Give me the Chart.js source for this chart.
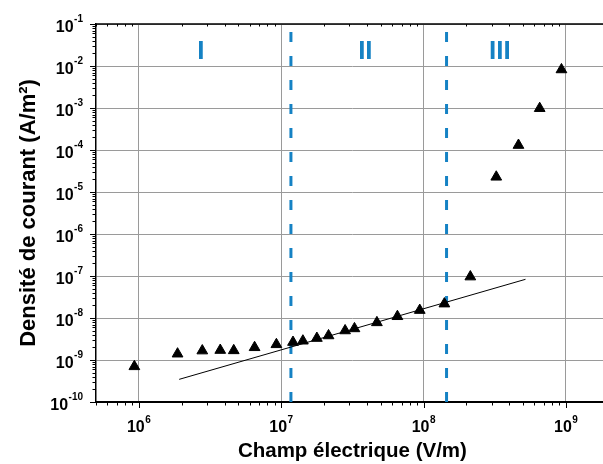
<!DOCTYPE html>
<html>
<head>
<meta charset="utf-8">
<script src="https://cdn.jsdelivr.net/npm/chart.js@4.4.1/dist/chart.umd.min.js"></script>
<style>
html, body { margin: 0; padding: 0; background: #fff; }
#wrap { width: 603px; height: 464px; overflow: hidden; }
canvas { display: block; }
</style>
</head>
<body>
<div id="wrap"><canvas id="jChart" width="616" height="464"></canvas></div>
<script>
// measured points (electric field in V/m, current density in A/m2)
const fieldValues = [9.3e5, 1.87e6, 2.79e6, 3.73e6, 4.64e6, 6.5e6, 9.25e6, 1.21e7, 1.42e7, 1.78e7, 2.15e7,
    2.81e7, 3.27e7, 4.7e7, 6.55e7, 9.4e7, 1.4e8, 2.13e8, 3.24e8, 4.64e8, 6.54e8, 9.3e8];
const currentValues = [7.0e-10, 1.4e-9, 1.66e-9, 1.71e-9, 1.68e-9, 1.99e-9, 2.34e-9, 2.65e-9, 2.85e-9, 3.3e-9, 3.8e-9,
    5.0e-9, 5.6e-9, 7.8e-9, 1.09e-8, 1.53e-8, 2.18e-8, 9.6e-8, 2.28e-5, 1.3e-4, 9.8e-4, 8.2e-3];

// straight fit line (two ends)
const fitField = [1.92e6, 5.2e8];
const fitCurrent = [3.46e-10, 8.34e-8];

// regime boundaries and labels
const regionBounds = [1.17e7, 1.45e8];
const regionNames = ['I', 'II', 'III'];
const regionLabelX = [2.73e6, 3.9e7, 3.43e8];
const regionLabelY = 1.49e-2;

const xDecades = [6, 7, 8, 9];
const yDecades = [-10, -9, -8, -7, -6, -5, -4, -3, -2, -1];

const FONT = 'Arial, "Liberation Sans", sans-serif';
const BLUE = '#1582c4';
Chart.defaults.font.family = FONT;
Chart.defaults.color = '#000';

const isDecade = v => Math.abs(Math.log10(v) - Math.round(Math.log10(v))) < 1e-6;

function drawPower(c, exp, x, yBase, align, rise) {
    c.font = 'bold 16px ' + FONT;
    const wb = c.measureText('10').width;
    c.font = 'bold 10px ' + FONT;
    const we = c.measureText(String(exp)).width;
    const total = wb + we + 0.5;
    const x0 = align === 'right' ? x - total : x - total / 2;
    c.textAlign = 'left';
    c.textBaseline = 'alphabetic';
    c.font = 'bold 16px ' + FONT;
    c.fillText('10', x0, yBase);
    c.font = 'bold 10px ' + FONT;
    c.fillText(String(exp), x0 + wb + 0.5, yBase - rise);
}

const axisDecor = {
    id: 'axisDecor',
    afterDraw(chart) {
        const c = chart.ctx;
        const xs = chart.scales.x, ys = chart.scales.y, area = chart.chartArea;
        c.save();
        c.strokeStyle = '#000';
        // top frame line
        c.lineWidth = 1.5;
        c.beginPath();
        c.moveTo(area.left, area.top);
        c.lineTo(area.right, area.top);
        c.stroke();

        // tick marks
        c.lineWidth = 1;
        c.beginPath();
        for (let e = 5; e <= 9; e++) {
            for (let m = 1; m <= 9; m++) {
                const v = m * Math.pow(10, e);
                if (v < xs.min * 0.999 || v > xs.max * 1.001) continue;
                const px = Math.round(xs.getPixelForValue(v)) + 0.5;
                const len = m === 1 ? 6 : 3.5;
                c.moveTo(px, area.bottom);
                c.lineTo(px, area.bottom + len);
                if (m !== 1) {
                    c.moveTo(px, area.top);
                    c.lineTo(px, area.top + 2.5);
                }
            }
        }
        for (let e = -10; e <= -1; e++) {
            for (let m = 1; m <= 9; m++) {
                const v = m * Math.pow(10, e);
                if (v < ys.min * 0.999 || v > ys.max * 1.001) continue;
                const py = Math.round(ys.getPixelForValue(v)) + 0.5;
                const len = m === 1 ? 6 : 3.5;
                c.moveTo(area.left, py);
                c.lineTo(area.left - len, py);
            }
        }
        c.stroke();

        // tick labels
        c.fillStyle = '#000';
        xDecades.forEach(e => {
            drawPower(c, e, xs.getPixelForValue(Math.pow(10, e)), area.bottom + 30.3, 'center', 9.6);
        });
        yDecades.forEach(e => {
            drawPower(c, e, 83, ys.getPixelForValue(Math.pow(10, e)) + 7.5, 'right', 10);
        });

        // regime labels
        c.fillStyle = BLUE;
        c.font = 'bold 26px ' + FONT;
        c.textAlign = 'center';
        c.textBaseline = 'alphabetic';
        regionNames.forEach((n, i) => {
            c.fillText(n, xs.getPixelForValue(regionLabelX[i]), ys.getPixelForValue(regionLabelY));
        });
        c.restore();
    }
};

const points = fieldValues.map((x, i) => ({ x: x, y: currentValues[i] }));
const fitPoints = fitField.map((x, i) => ({ x: x, y: fitCurrent[i] }));

const boundaryDatasets = regionBounds.map(b => ({
    data: [{ x: b, y: 1e-10 }, { x: b, y: 1e-1 }],
    showLine: true,
    borderColor: BLUE,
    borderWidth: 3,
    borderDash: [10, 14],
    pointRadius: 0,
    order: 3
}));

const ctx = document.getElementById('jChart').getContext('2d');

const jChart = new Chart(ctx, {
    type: 'scatter',
    data: {
        datasets: [
            {
                data: points,
                pointStyle: 'triangle',
                pointRadius: 6.2,
                backgroundColor: '#000',
                borderColor: '#000',
                borderWidth: 1,
                order: 0
            },
            {
                data: fitPoints,
                showLine: true,
                borderColor: '#000',
                borderWidth: 1,
                pointRadius: 0,
                order: 1
            },
            ...boundaryDatasets
        ]
    },
    options: {
        responsive: false,
        devicePixelRatio: 1,
        animation: false,
        layout: { padding: { top: 24, right: 3, left: 0, bottom: 0 } },
        plugins: {
            legend: { display: false },
            tooltip: { enabled: false }
        },
        scales: {
            x: {
                type: 'logarithmic',
                min: 5e5,
                max: 2e9,
                ticks: { display: false },
                grid: {
                    color: c => (c.tick && isDecade(c.tick.value)) ? '#9a9a9a' : 'rgba(0,0,0,0)',
                    lineWidth: 1,
                    drawTicks: false
                },
                border: { display: true, color: '#000', width: 2 },
                title: {
                    display: true,
                    text: 'Champ électrique (V/m)',
                    font: { size: 20.5, weight: 'bold' },
                    padding: { top: 0, bottom: 0 }
                },
                afterFit: s => { s.height = 62; }
            },
            y: {
                type: 'logarithmic',
                min: 1e-10,
                max: 1e-1,
                ticks: { display: false },
                grid: {
                    color: c => (c.tick && isDecade(c.tick.value)) ? '#9a9a9a' : 'rgba(0,0,0,0)',
                    lineWidth: 1,
                    drawTicks: false
                },
                border: { display: true, color: '#000', width: 1.5 },
                title: {
                    display: true,
                    text: 'Densité de courant (A/m²)',
                    font: { size: 22, weight: 'bold' },
                    padding: { top: 16, bottom: 0 }
                },
                afterFit: s => { s.width = 96; }
            }
        }
    },
    plugins: [axisDecor]
});
</script>
</body>
</html>
